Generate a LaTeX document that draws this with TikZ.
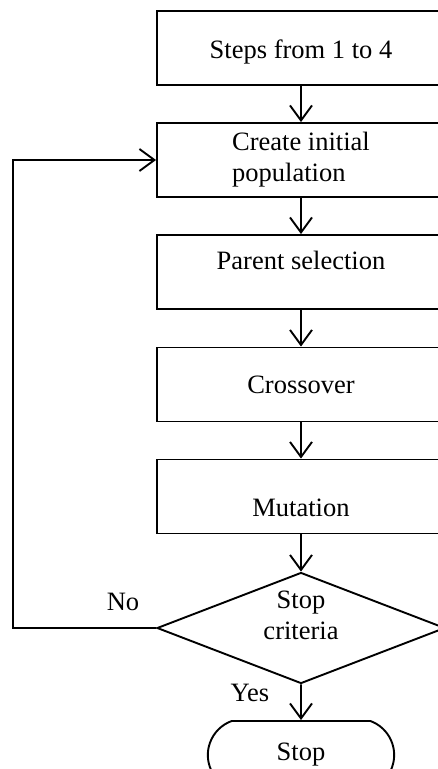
\documentclass[tikz,border=0pt]{standalone}
\usepackage{fontspec}
\setmainfont{Liberation Serif}
\usetikzlibrary{shapes.geometric,shapes.misc,arrows.meta}
\begin{document}
\begin{tikzpicture}[
		x=1pt,y=-1pt,
		line width=1.9pt,
		font=\fontsize{26.5}{31}\selectfont,
		inp/.style = {-{Straight Barb[length=15pt,width=22pt]}},
		stage/.style = {rectangle, draw, minimum width=288pt, minimum height=74pt, align=left},
		check/.style = {diamond, draw, shape aspect=2.6, minimum width=288pt, minimum height=111pt, inner sep=0pt, align=center},
		terminal/.style = {rounded rectangle, rounded rectangle arc length=140, draw, minimum width=193pt, minimum height=68pt}
	]
	\useasboundingbox (0,0) rectangle (438,769);
	\node (steps) [stage, text height=26pt] at (301,48) {Steps from 1 to 4};
	\node (create) [stage] at (301,160) {Create initial\\population};
	\node (parent) [stage, text depth=24pt] at (301,272) {Parent selection};
	\node (cross) [stage] at (301,384.5) {Crossover};
	\node (mut) [stage, text height=40pt] at (301,496.5) {Mutation};
	\node (crit) [check, text depth=26pt] at (301,628) {Stop\\criteria};
	\node (stop) [terminal] at (301,755) {Stop};
	\coordinate (back) at (13,628);
	\node (no) at (123,602) {No};
	\node (yes) at (250,693) {Yes};

	\path [inp] (steps) edge (create);
	\path [inp] (create) edge (parent);
	\path [inp] (parent) edge (cross);
	\path [inp] (cross) edge (mut);
	\path [inp] (mut) edge (crit);
	\path [inp] (crit) edge (stop);
	\draw [inp] (crit.west) -- (back) |- (create.west);
\end{tikzpicture}
\end{document}
